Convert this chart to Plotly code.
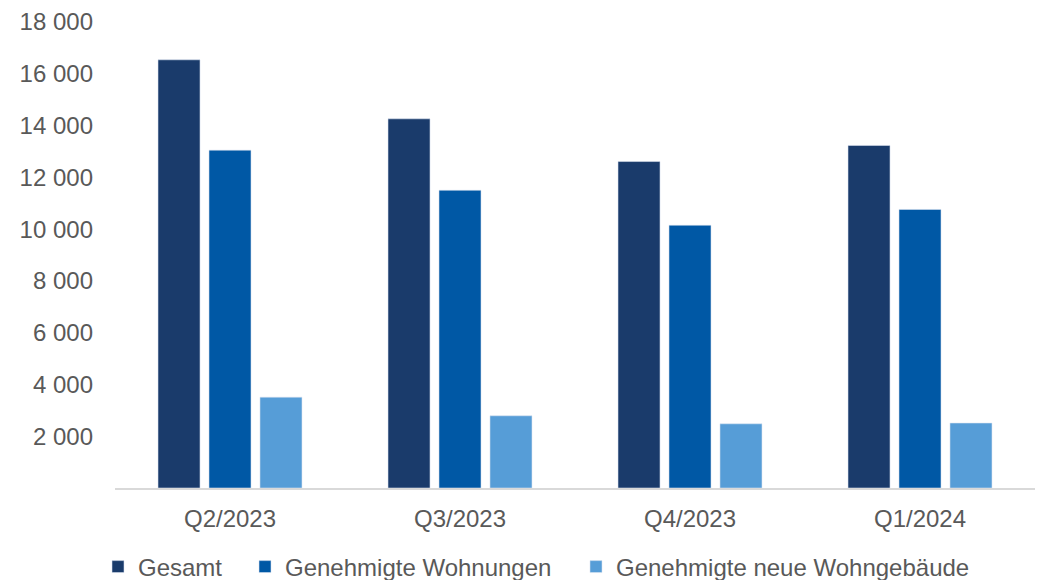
import plotly.graph_objects as go

# Quarterly building permit figures
quarters = ["Q2/2023", "Q3/2023", "Q4/2023", "Q1/2024"]
gesamt = [16540, 14260, 12610, 13230]
wohnungen = [13050, 11500, 10150, 10760]
wohngebaeude = [3510, 2790, 2480, 2510]

series_names = ["Gesamt", "Genehmigte Wohnungen", "Genehmigte neue Wohngebäude"]
series_colors = ["#1A3B6B", "#0058A5", "#569DD7"]

tick_vals = [2000, 4000, 6000, 8000, 10000, 12000, 14000, 16000, 18000]
tick_text = ["2 000", "4 000", "6 000", "8 000", "10 000", "12 000", "14 000", "16 000", "18 000"]

text_color = "#595959"
font_family = "Liberation Sans, Arial, sans-serif"
W, H = 1045, 580

# each series gets its own legend box so the entries can be spaced freely
legend_ids = ["legend2", "legend3", "legend4"]
legend_left_px = [98, 245, 576]

fig = go.Figure()
for name, values, color, lid in zip(series_names, [gesamt, wohnungen, wohngebaeude], series_colors, legend_ids):
    fig.add_trace(go.Bar(
        name=name,
        x=quarters,
        y=values,
        legend=lid,
        marker=dict(color=color, line=dict(color="rgba(220,228,240,0.7)", width=0.8)),
    ))

legend_common = dict(
    orientation="h",
    xref="container",
    yref="container",
    xanchor="left",
    yanchor="middle",
    y=1 - 567 / H,
    font=dict(size=24, color=text_color),
    bgcolor="rgba(0,0,0,0)",
)

fig.update_layout(
    width=W,
    height=H,
    margin=dict(l=115, r=10, t=22, b=92, autoexpand=False),
    paper_bgcolor="white",
    plot_bgcolor="white",
    barmode="group",
    bargap=0.335,
    bargroupgap=0.176,
    font=dict(family=font_family, size=24, color=text_color),
    **{lid: dict(x=px / W, **legend_common) for lid, px in zip(legend_ids, legend_left_px)},
    xaxis=dict(
        showgrid=False,
        showline=True,
        linecolor="#D9D9D9",
        linewidth=1.5,
        ticks="",
        ticklabelstandoff=8,
        tickfont=dict(size=24, color=text_color),
    ),
    yaxis=dict(
        range=[0, 18000],
        showgrid=False,
        zeroline=False,
        showline=False,
        tickvals=tick_vals,
        ticktext=tick_text,
        ticks="",
        ticklabelstandoff=21,
        tickfont=dict(size=24, color=text_color),
    ),
)

fig.write_html("out.html")
